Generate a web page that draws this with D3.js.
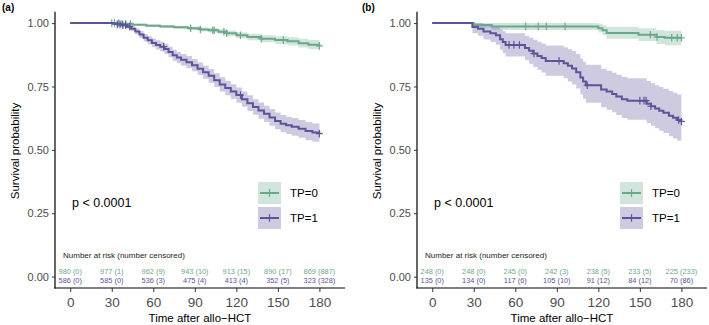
<!DOCTYPE html>
<html>
<head>
<meta charset="utf-8">
<script src="https://cdn.jsdelivr.net/npm/d3@7"></script>
<style>
  body { margin: 0; background: #fff; }
  text { font-family: "Liberation Sans", Arial, sans-serif; }
</style>
</head>
<body>
<svg id="chart" width="709" height="325"></svg>
<script>
// ---- data ----
// panel (a)
var a0_t  = [0, 36, 45, 55, 65, 75, 85, 94, 100, 107, 113, 120, 128, 138, 148, 157, 165, 172, 180]
var a0_s  = [1, 0.997, 0.994, 0.99, 0.987, 0.984, 0.98, 0.975, 0.972, 0.966, 0.96, 0.952, 0.945, 0.938, 0.933, 0.928, 0.921, 0.915, 0.91]
var a0_lo = [1, 0.995, 0.991, 0.986, 0.982, 0.978, 0.973, 0.967, 0.963, 0.956, 0.949, 0.94, 0.932, 0.924, 0.918, 0.912, 0.904, 0.897, 0.892]
var a0_hi = [1, 0.999, 0.997, 0.995, 0.993, 0.99, 0.987, 0.983, 0.981, 0.976, 0.971, 0.964, 0.958, 0.952, 0.948, 0.944, 0.938, 0.933, 0.929]
var a0_cens = [30, 32, 35, 37.5, 40, 43.5, 87, 94, 103, 104, 111, 113, 123, 138, 154, 180]

var a1_t  = [0, 31, 34, 37, 41, 44, 47, 50, 53, 56, 59, 62, 65, 68, 71, 74, 77, 80, 84, 88, 92, 96, 100, 104, 108, 112, 116, 120, 124, 128, 132, 136, 140, 144, 148, 152, 156, 160, 165, 170, 175, 180]
var a1_s  = [1, 0.997, 0.995, 0.992, 0.986, 0.978, 0.967, 0.955, 0.942, 0.932, 0.922, 0.914, 0.907, 0.898, 0.886, 0.873, 0.864, 0.855, 0.846, 0.834, 0.82, 0.806, 0.792, 0.775, 0.758, 0.744, 0.73, 0.716, 0.7, 0.684, 0.669, 0.655, 0.642, 0.628, 0.614, 0.603, 0.597, 0.591, 0.583, 0.574, 0.568, 0.564]
var a1_lo = [1, 0.994, 0.991, 0.986, 0.978, 0.968, 0.955, 0.941, 0.927, 0.916, 0.905, 0.896, 0.888, 0.878, 0.865, 0.851, 0.842, 0.832, 0.822, 0.81, 0.795, 0.78, 0.765, 0.748, 0.73, 0.715, 0.701, 0.686, 0.67, 0.653, 0.638, 0.623, 0.61, 0.595, 0.581, 0.569, 0.563, 0.556, 0.548, 0.538, 0.532, 0.527]
var a1_hi = [1, 1, 0.999, 0.998, 0.994, 0.988, 0.979, 0.969, 0.957, 0.948, 0.939, 0.932, 0.926, 0.918, 0.907, 0.895, 0.886, 0.878, 0.87, 0.858, 0.845, 0.832, 0.819, 0.802, 0.786, 0.773, 0.759, 0.746, 0.73, 0.715, 0.7, 0.687, 0.674, 0.661, 0.647, 0.637, 0.631, 0.626, 0.618, 0.61, 0.604, 0.601]
var a1_cens = [34, 36, 38, 40, 43, 67.5, 123, 180]

// panel (b)
var b0_t  = [0, 30, 43, 120, 123, 126, 149, 162, 168, 180]
var b0_s  = [1, 0.993, 0.987, 0.98, 0.972, 0.961, 0.954, 0.945, 0.942, 0.942]
var b0_lo = [1, 0.983, 0.973, 0.963, 0.952, 0.938, 0.929, 0.918, 0.913, 0.913]
var b0_hi = [1, 1, 1, 0.997, 0.992, 0.985, 0.98, 0.973, 0.97, 0.97]
var b0_cens = [67.5, 76.6, 82.4, 96, 157.6, 162.4, 173, 177, 180]

var b1_t  = [0, 29, 33, 37, 42, 46, 49, 51, 53, 67, 70, 73, 76, 79, 82, 95, 98, 101, 104, 107, 109, 111, 122, 126, 130, 133, 137, 141, 155, 158, 161, 164, 167, 171, 174, 177, 180]
var b1_s  = [1, 0.985, 0.978, 0.967, 0.96, 0.952, 0.936, 0.925, 0.914, 0.902, 0.891, 0.88, 0.87, 0.862, 0.851, 0.842, 0.832, 0.821, 0.806, 0.785, 0.77, 0.755, 0.738, 0.73, 0.72, 0.71, 0.7, 0.694, 0.682, 0.672, 0.663, 0.654, 0.646, 0.635, 0.627, 0.618, 0.612]
var b1_lo = [1, 0.96, 0.95, 0.935, 0.925, 0.915, 0.895, 0.882, 0.868, 0.853, 0.84, 0.827, 0.815, 0.805, 0.792, 0.782, 0.77, 0.758, 0.742, 0.718, 0.702, 0.686, 0.668, 0.658, 0.648, 0.637, 0.626, 0.619, 0.606, 0.595, 0.585, 0.575, 0.566, 0.554, 0.545, 0.536, 0.528]
var b1_hi = [1, 1, 1, 0.995, 0.99, 0.985, 0.975, 0.968, 0.96, 0.95, 0.942, 0.934, 0.926, 0.92, 0.912, 0.905, 0.897, 0.89, 0.878, 0.86, 0.848, 0.836, 0.82, 0.812, 0.804, 0.796, 0.788, 0.782, 0.772, 0.763, 0.755, 0.748, 0.741, 0.732, 0.725, 0.718, 0.713]
var b1_cens = [55.5, 59, 63, 73.5, 91.6, 112, 150, 153, 154.5, 158, 178, 180]

// number at risk tables
var riskTimes = [0, 30, 60, 90, 120, 150, 180]
var a0_risk = [980, 977, 962, 943, 913, 890, 869], a0_nc = [0, 1, 9, 10, 15, 17, 887]
var a1_risk = [586, 585, 536, 475, 413, 352, 323], a1_nc = [0, 0, 3, 4, 4, 5, 328]
var b0_risk = [248, 248, 245, 242, 238, 233, 225], b0_nc = [0, 0, 0, 3, 5, 5, 233]
var b1_risk = [135, 134, 117, 105, 91, 84, 70], b1_nc = [0, 0, 6, 10, 12, 12, 86]

var groups = ["TP=0", "TP=1"]
var xTicks = [0, 30, 60, 90, 120, 150, 180]
var yTicks = [0, 0.25, 0.5, 0.75, 1]

var colors = ["#69a98a", "#5c5499"]

function curve(t, s, lo, hi) {
    return t.map((d, i) => ({t: d, s: s[i], lo: lo[i], hi: hi[i]}))
}

var panels = [
    {label: "(a)", dx: 0,
     curves: [
        {pts: curve(a0_t, a0_s, a0_lo, a0_hi), cens: a0_cens, risk: a0_risk, nc: a0_nc},
        {pts: curve(a1_t, a1_s, a1_lo, a1_hi), cens: a1_cens, risk: a1_risk, nc: a1_nc}]},
    {label: "(b)", dx: 362,
     curves: [
        {pts: curve(b0_t, b0_s, b0_lo, b0_hi), cens: b0_cens, risk: b0_risk, nc: b0_nc},
        {pts: curve(b1_t, b1_s, b1_lo, b1_hi), cens: b1_cens, risk: b1_risk, nc: b1_nc}]}
]

var svg = d3.select("#chart")
var x = d3.scaleLinear().domain([-11, 198.5]).range([55, 345])
var y = d3.scaleLinear().domain([-0.045, 1.045]).range([288, 11.7])

var line = d3.line().x(d => x(d.t)).y(d => y(d.s)).curve(d3.curveStepAfter)
var band = d3.area().x(d => x(d.t)).y0(d => y(d.lo)).y1(d => y(d.hi)).curve(d3.curveStepAfter)

function survAt(pts, t) {
    var i = d3.bisectRight(pts.map(p => p.t), t) - 1
    return pts[Math.max(0, i)].s
}

function plus(sel, cx, cy, col, w) {
    sel.append("line").attr("x1", cx - w).attr("x2", cx + w).attr("y1", cy).attr("y2", cy).attr("stroke", col).attr("stroke-width", 1.2)
    sel.append("line").attr("x1", cx).attr("x2", cx).attr("y1", cy - 3.8).attr("y2", cy + 3.8).attr("stroke", col).attr("stroke-width", 1.2)
}

panels.forEach(p => {
    var g = svg.append("g").attr("transform", "translate(" + p.dx + ",0)")

    // bands then lines
    p.curves.forEach((c, k) => {
        g.append("path").datum(c.pts).attr("d", band).attr("fill", colors[k]).attr("fill-opacity", 0.3)
    })
    p.curves.forEach((c, k) => {
        g.append("path").datum(c.pts).attr("d", line).attr("fill", "none").attr("stroke", colors[k]).attr("stroke-width", 2)
        var cg = g.append("g")
        c.cens.forEach(t => plus(cg, x(t), y(survAt(c.pts, t)), colors[k], 3.5))
    })

    // axes
    g.append("line").attr("x1", x.range()[0]).attr("x2", x.range()[0]).attr("y1", y.range()[1]).attr("y2", y.range()[0] + 0.6).attr("stroke", "#000").attr("stroke-width", 1.2)
    g.append("line").attr("x1", x.range()[0] - 0.6).attr("x2", x.range()[1]).attr("y1", y.range()[0]).attr("y2", y.range()[0]).attr("stroke", "#000").attr("stroke-width", 1.2)
    var ya = g.append("g").attr("transform", "translate(" + x.range()[0] + ",0)")
        .call(d3.axisLeft(y).tickValues(yTicks).tickFormat(d3.format(".2f")).tickSize(3).tickPadding(3))
    var xa = g.append("g").attr("transform", "translate(0," + y.range()[0] + ")")
        .call(d3.axisBottom(x).tickValues(xTicks).tickSize(4).tickPadding(5))
    ;[ya, xa].forEach(a => {
        a.select(".domain").remove()
        a.selectAll("line").attr("stroke", "#333").attr("stroke-width", 1)
        a.selectAll("text").attr("fill", "#4d4d4d")
    })
    ya.selectAll("text").attr("font-size", 11)
    xa.selectAll("text").attr("font-size", 13.5)

    g.append("text").attr("transform", "translate(18.5,151) rotate(-90)").attr("text-anchor", "middle")
        .attr("font-size", 11.5).attr("fill", "#000").text("Survival probability")
    g.append("text").attr("x", 200).attr("y", 321.5).attr("text-anchor", "middle").attr("font-size", 11.5).text("Time after allo\u2212HCT")
    g.append("text").attr("x", p.dx ? 0 : 2).attr("y", 11).attr("font-size", 10).attr("font-weight", "bold").text(p.label)

    g.append("text").attr("x", 72).attr("y", 207).attr("font-size", 12.5).text("p < 0.0001")

    // legend
    groups.forEach((name, k) => {
        var ly = 182 + k * 25
        g.append("rect").attr("x", 258).attr("y", ly).attr("width", 23).attr("height", 22).attr("fill", colors[k]).attr("fill-opacity", 0.3)
        g.append("line").attr("x1", 260).attr("x2", 279).attr("y1", ly + 11).attr("y2", ly + 11).attr("stroke", colors[k]).attr("stroke-width", 2)
        plus(g, 269.5, ly + 11, colors[k], 3.5)
        g.append("text").attr("x", 290).attr("y", ly + 15).attr("font-size", 11.5).text(name)
    })

    // risk table
    g.append("text").attr("x", 63).attr("y", 258).attr("font-size", 8).attr("fill", "#222").text("Number at risk (number censored)")
    p.curves.forEach((c, k) => {
        g.selectAll(".risk" + k).data(riskTimes).join("text").attr("class", "risk" + k)
            .attr("x", d => x(d)).attr("y", 274 + k * 8.6).attr("text-anchor", "middle")
            .attr("font-size", 7.4).attr("fill", colors[k])
            .text((d, i) => c.risk[i] + " (" + c.nc[i] + ")")
    })
})
</script>
</body>
</html>
